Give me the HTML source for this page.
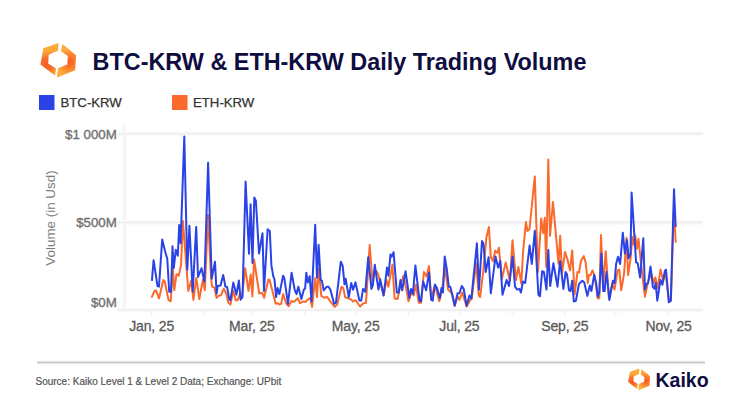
<!DOCTYPE html>
<html><head><meta charset="utf-8">
<style>
html,body{margin:0;padding:0;background:#fff;}
body{width:751px;height:409px;overflow:hidden;position:relative;}
svg{position:absolute;left:0;top:0;}
text{font-family:"Liberation Sans",sans-serif;}
.ax{font-size:14px;letter-spacing:-0.15px;fill:#5a5a5a;stroke:#5a5a5a;stroke-width:0.3px;}
.ay{font-size:13.3px;fill:#707070;stroke:#707070;stroke-width:0.35px;}
</style></head><body>
<svg width="751" height="409" viewBox="0 0 751 409">
<defs>
<radialGradient id="gl" gradientUnits="userSpaceOnUse" cx="47" cy="64" r="13">
<stop offset="0" stop-color="#f65a28"/><stop offset="0.45" stop-color="#f86d2a"/><stop offset="1" stop-color="#fdaa3a"/>
</radialGradient>
<radialGradient id="gr" gradientUnits="userSpaceOnUse" cx="69.5" cy="62" r="13">
<stop offset="0" stop-color="#f65a28"/><stop offset="0.45" stop-color="#f97a2c"/><stop offset="1" stop-color="#fdaa3a"/>
</radialGradient>
</defs>
<!-- title logo -->
<polygon points="58.7,42.9 43.3,48.3 40.4,64.4 55.1,75.7 56,68.5 48.2,63.5 48.7,54.7 58,50.8" fill="url(#gl)"/>
<polygon points="62.4,43.9 76.1,55.2 75.1,70.3 57,77.6 58,68.3 67.3,64.4 67.8,56.1 61,51.2" fill="url(#gr)"/>
<text x="92.6" y="70.1" style="font-size:23.4px;font-weight:bold;fill:#0f0c3f">BTC-KRW &amp; ETH-KRW Daily Trading Volume</text>
<!-- legend -->
<rect x="39" y="95" width="15.5" height="15" fill="#2a43e6"/>
<text x="60.5" y="106.5" style="font-size:13.2px;fill:#333;stroke:#333;stroke-width:0.25px">BTC-KRW</text>
<rect x="172" y="95" width="15.5" height="15" fill="#fa6a2c"/>
<text x="193" y="106.5" style="font-size:13.2px;fill:#333;stroke:#333;stroke-width:0.25px">ETH-KRW</text>
<!-- grid -->
<g stroke="#fafafa" stroke-width="5">
<line x1="124.5" y1="124" x2="124.5" y2="310"/>
<line x1="118" y1="133.8" x2="703" y2="133.8"/>
<line x1="118" y1="222.5" x2="703" y2="222.5"/>
<line x1="118" y1="310" x2="703" y2="310"/>
</g>
<line x1="124.5" y1="124" x2="124.5" y2="310" stroke="#f1f1f1" stroke-width="1.2"/>
<line x1="118" y1="133.8" x2="703" y2="133.8" stroke="#ededed" stroke-width="1.5"/>
<line x1="118" y1="222.5" x2="703" y2="222.5" stroke="#ededed" stroke-width="1.5"/>
<line x1="118" y1="310" x2="703" y2="310" stroke="#ededed" stroke-width="1.3"/>
<line x1="151.6" y1="310" x2="151.6" y2="316" stroke="#eeeeee" stroke-width="1"/><line x1="204.3" y1="310" x2="204.3" y2="316" stroke="#eeeeee" stroke-width="1"/><line x1="251.9" y1="310" x2="251.9" y2="316" stroke="#eeeeee" stroke-width="1"/><line x1="304.7" y1="310" x2="304.7" y2="316" stroke="#eeeeee" stroke-width="1"/><line x1="355.7" y1="310" x2="355.7" y2="316" stroke="#eeeeee" stroke-width="1"/><line x1="408.4" y1="310" x2="408.4" y2="316" stroke="#eeeeee" stroke-width="1"/><line x1="459.4" y1="310" x2="459.4" y2="316" stroke="#eeeeee" stroke-width="1"/><line x1="512.1" y1="310" x2="512.1" y2="316" stroke="#eeeeee" stroke-width="1"/><line x1="564.8" y1="310" x2="564.8" y2="316" stroke="#eeeeee" stroke-width="1"/><line x1="615.9" y1="310" x2="615.9" y2="316" stroke="#eeeeee" stroke-width="1"/><line x1="668.6" y1="310" x2="668.6" y2="316" stroke="#eeeeee" stroke-width="1"/>
<text x="116.8" y="139" text-anchor="end" class="ay">$1 000M</text>
<text x="116.8" y="227" text-anchor="end" class="ay">$500M</text>
<text x="116.8" y="307" text-anchor="end" class="ay">$0M</text>
<text transform="translate(55.3,218) rotate(-90)" text-anchor="middle" style="font-size:13.4px;fill:#7c7c7c">Volume (in Usd)</text>
<text x="151.6" y="331" text-anchor="middle" class="ax">Jan, 25</text><text x="251.9" y="331" text-anchor="middle" class="ax">Mar, 25</text><text x="355.7" y="331" text-anchor="middle" class="ax">May, 25</text><text x="459.4" y="331" text-anchor="middle" class="ax">Jul, 25</text><text x="564.8" y="331" text-anchor="middle" class="ax">Sep, 25</text><text x="668.6" y="331" text-anchor="middle" class="ax">Nov, 25</text>
<!-- series -->
<path d="M151.6,297.7 L154.5,291.0 L156.0,290.3 L159.0,298.4 L163.3,280.0 L164.8,281.5 L168.5,299.9 L170.7,301.3 L172.9,269.0 L174.3,290.3 L176.5,274.2 L178.7,275.7 L181.0,265.4 L182.9,220.9 L188.3,291.0 L191.2,280.8 L193.4,299.9 L196.3,277.9 L199.3,299.0 L203.0,279.3 L204.8,290.3 L208.0,215.0 L211.1,279.3 L212.2,286.5 L214.4,287.6 L216.6,298.0 L218.3,295.8 L221.0,295.3 L223.8,288.7 L226.5,294.2 L228.2,302.4 L230.4,304.6 L233.3,290.9 L235.6,300.2 L237.5,300.2 L239.7,294.7 L241.9,298.0 L245.2,268.3 L248.5,290.9 L250.7,274.4 L252.4,296.4 L254.1,259.5 L259.2,293.5 L262.3,292.8 L264.1,297.7 L268.4,279.4 L269.6,280.0 L275.7,303.8 L277.6,303.2 L279.4,304.5 L281.2,303.8 L283.1,294.1 L286.1,303.2 L288.6,306.3 L291.6,300.8 L293.5,302.0 L295.3,300.8 L297.7,298.3 L300.2,303.2 L303.2,301.4 L305.7,302.0 L307.5,299.6 L308.4,299.6 L310.3,297.7 L312.1,306.9 L315.2,278.2 L317.0,297.1 L318.8,268.4 L321.3,295.9 L324.3,297.7 L327.4,297.1 L329.8,300.8 L332.3,303.8 L334.7,306.9 L337.2,304.5 L341.5,286.7 L343.3,288.0 L345.1,297.1 L348.2,298.3 L351.2,299.6 L353.1,301.4 L355.5,300.2 L360.1,306.5 L363.0,303.5 L366.0,302.8 L369.7,245.0 L372.6,283.7 L374.8,269.8 L377.0,272.0 L378.5,275.7 L383.6,295.5 L386.5,280.0 L388.4,286.7 L392.4,264.7 L394.6,298.4 L397.5,299.0 L400.5,285.2 L403.4,275.7 L405.6,285.2 L408.5,301.3 L411.5,292.5 L413.7,295.5 L415.9,284.5 L418.8,302.8 L421.0,302.8 L423.9,272.0 L426.6,276.4 L429.0,266.1 L431.2,298.4 L434.9,285.2 L439.3,301.3 L442.2,289.6 L444.7,266.1 L448.1,289.6 L451.8,293.3 L454.7,305.7 L457.6,296.2 L459.4,299.9 L462.2,292.5 L466.6,306.5 L470.3,299.9 L471.7,299.0 L476.1,263.2 L478.8,295.5 L480.2,297.0 L483.5,269.0 L486.4,237.4 L488.9,227.1 L490.8,257.0 L493.0,261.0 L495.2,250.6 L497.4,252.8 L498.9,247.7 L501.8,279.3 L505.7,262.5 L509.9,280.8 L512.5,240.3 L516.0,280.0 L518.4,266.9 L521.3,283.7 L523.0,252.8 L525.9,222.1 L527.5,231.0 L529.5,229.0 L534.8,176.4 L537.9,272.0 L541.2,218.5 L543.2,233.0 L544.8,217.7 L546.2,267.0 L548.3,159.5 L550.0,235.8 L553.0,202.0 L558.5,264.0 L560.2,235.8 L562.0,273.5 L565.0,252.0 L567.4,259.2 L570.1,270.4 L572.2,250.4 L574.6,294.3 L577.5,272.0 L579.0,272.7 L581.0,260.8 L583.8,256.0 L585.8,263.2 L587.7,283.1 L589.0,275.1 L590.6,275.1 L592.5,270.4 L594.6,276.0 L597.7,298.3 L599.3,298.3 L601.0,235.0 L603.3,287.1 L605.7,251.2 L608.9,298.3 L612.1,283.9 L614.5,289.5 L617.7,270.4 L619.3,269.6 L621.2,290.3 L624.1,273.5 L626.5,237.8 L628.1,275.1 L630.5,259.2 L632.3,237.0 L633.7,244.8 L635.3,235.6 L636.9,248.8 L638.5,238.8 L640.9,262.4 L642.5,276.0 L644.9,296.7 L648.1,281.5 L651.3,273.5 L653.7,283.1 L655.3,277.5 L657.7,287.9 L660.5,269.6 L663.2,280.7 L665.5,272.5 L669.2,302.0 L670.9,300.5 L674.0,205.0 L675.7,242.8" fill="none" stroke="#fa6a2c" stroke-width="2" stroke-linejoin="round"/>
<path d="M151.9,280.8 L153.6,260.2 L157.5,286.0 L159.0,286.7 L162.2,239.5 L164.9,250.5 L167.3,259.0 L169.2,291.8 L171.0,291.8 L172.5,246.3 L173.8,268.0 L175.8,249.7 L177.8,255.7 L179.2,225.0 L180.6,243.2 L184.3,136.6 L187.3,269.8 L189.4,225.7 L192.7,291.8 L196.2,226.9 L198.0,277.0 L201.5,268.3 L204.4,281.5 L208.1,162.8 L211.7,278.8 L215.0,261.7 L216.6,293.6 L217.7,285.9 L220.5,285.4 L223.2,274.9 L225.4,286.5 L227.1,287.0 L229.3,299.7 L230.4,300.2 L233.3,282.6 L236.4,294.7 L238.9,280.4 L240.6,299.7 L242.5,296.9 L245.6,181.5 L249.0,253.7 L250.6,204.3 L252.5,263.0 L254.3,197.4 L255.9,201.0 L259.0,253.5 L262.5,233.3 L264.0,291.0 L267.6,229.3 L269.8,231.0 L271.4,265.3 L273.3,276.3 L274.5,279.4 L276.1,297.1 L277.6,288.0 L279.4,294.1 L283.1,275.7 L284.3,278.2 L288.0,303.8 L291.6,272.7 L294.7,289.8 L296.5,294.1 L298.3,286.7 L301.4,299.0 L303.8,289.8 L305.1,288.6 L306.3,272.7 L307.8,282.4 L309.7,276.3 L311.5,301.4 L315.2,224.8 L317.0,277.6 L318.6,244.7 L320.7,280.0 L321.9,280.6 L323.7,290.4 L326.8,286.7 L328.6,286.7 L330.4,289.8 L334.1,303.8 L336.0,302.6 L340.8,261.7 L342.7,265.9 L344.5,284.3 L345.7,278.8 L348.8,297.1 L351.2,283.1 L353.1,289.8 L355.5,282.4 L359.4,300.6 L361.2,300.6 L363.0,288.9 L365.3,291.8 L368.2,257.3 L371.4,288.9 L372.9,285.2 L374.8,264.7 L376.3,275.7 L378.5,289.6 L380.2,279.3 L383.6,295.5 L387.0,267.6 L388.4,275.7 L390.5,254.4 L391.7,256.6 L393.6,252.2 L396.8,292.5 L398.7,292.5 L400.5,280.0 L402.2,290.3 L405.6,271.3 L409.3,297.7 L411.0,288.9 L412.9,294.0 L415.4,265.4 L419.5,300.6 L421.0,301.3 L423.2,281.5 L426.1,290.3 L429.0,272.7 L431.2,299.9 L432.7,300.6 L434.9,284.5 L437.0,288.0 L439.8,298.4 L441.5,288.0 L443.0,292.5 L444.7,256.6 L446.6,267.6 L448.8,286.7 L450.3,286.7 L452.5,295.5 L454.7,305.7 L457.6,293.3 L459.4,293.3 L461.8,286.0 L463.7,288.9 L466.6,305.7 L469.5,295.5 L471.4,298.4 L476.9,243.3 L479.0,289.6 L482.0,241.0 L483.5,244.0 L485.7,272.0 L488.6,257.3 L490.8,293.3 L495.5,256.6 L498.1,267.6 L500.3,261.0 L502.5,294.7 L506.6,280.0 L509.1,286.0 L512.5,256.5 L515.0,286.7 L517.2,289.6 L519.4,288.9 L520.9,292.5 L523.0,281.5 L525.2,283.0 L529.6,245.5 L531.8,264.0 L534.8,230.8 L538.4,294.7 L540.0,296.2 L542.1,271.3 L543.9,272.0 L546.5,289.6 L548.3,249.9 L550.2,286.0 L553.4,263.2 L557.5,286.7 L560.1,261.0 L563.4,288.9 L565.6,272.0 L567.0,274.3 L569.0,290.3 L570.6,291.1 L572.2,280.7 L573.8,301.5 L575.9,300.7 L579.0,283.9 L582.3,280.7 L584.2,282.3 L587.4,295.9 L589.8,285.5 L591.4,291.1 L594.1,275.1 L596.2,283.1 L597.7,296.7 L599.3,292.7 L601.4,253.6 L603.3,291.1 L604.6,291.1 L606.5,272.0 L609.4,299.9 L612.9,280.7 L614.5,283.1 L616.1,264.0 L618.0,256.8 L620.1,264.0 L622.8,232.7 L624.9,253.6 L627.0,240.0 L628.6,258.4 L630.5,254.4 L631.6,192.5 L636.1,262.4 L637.7,263.2 L640.1,277.5 L643.3,238.3 L644.9,289.5 L646.5,283.9 L648.1,283.1 L650.5,266.4 L652.9,287.1 L654.5,288.7 L655.7,283.1 L657.3,300.7 L660.5,279.9 L662.4,284.7 L664.8,271.2 L666.0,269.6 L668.8,302.3 L670.8,300.7 L674.0,189.3 L675.7,227.0" fill="none" stroke="#2a43e6" stroke-width="2" stroke-linejoin="round"/>
<!-- footer -->
<line x1="37" y1="362.5" x2="705" y2="362.5" stroke="#f4f4f4" stroke-width="4"/>
<line x1="37" y1="362.5" x2="705" y2="362.5" stroke="#c2c2c2" stroke-width="1.3"/>
<text x="35.5" y="385" style="font-size:10px;fill:#555;stroke:#555;stroke-width:0.2px">Source: Kaiko Level 1 &amp; Level 2 Data; Exchange: UPbit</text>
<g transform="translate(628,368.6) scale(0.62,0.625) translate(-40.4,-42.9)">
<polygon points="58.70,42.90 43.30,48.30 40.40,64.40 55.10,75.70 56.20,67.70 49.18,63.20 49.63,55.28 58.00,51.77" fill="url(#gl)"/>
<polygon points="62.40,43.90 76.10,55.20 75.10,70.30 57.00,77.60 58.00,67.52 66.37,64.01 66.82,56.54 60.70,52.13" fill="url(#gr)"/>
</g>
<text x="655.5" y="387.3" style="font-size:19.5px;font-weight:bold;fill:#0f0c3f">Kaiko</text>
</svg>
</body></html>
